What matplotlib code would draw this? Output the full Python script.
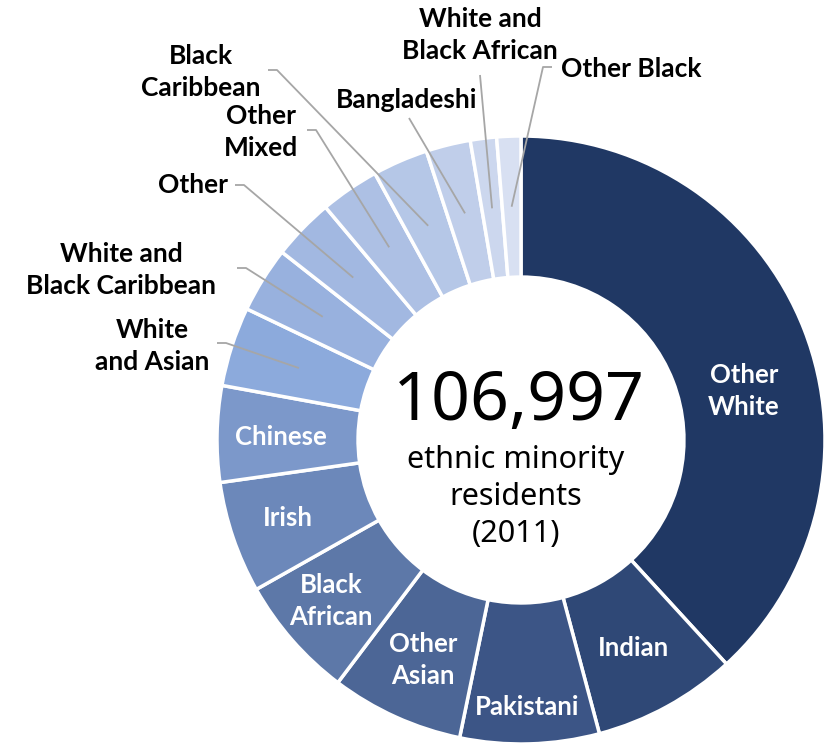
import numpy as np
import matplotlib
matplotlib.use("Agg")
import matplotlib.pyplot as plt

# ---- data (clockwise from 12 o'clock) ----
groups = [
    "Other White", "Indian", "Pakistani", "Other Asian", "Black African",
    "Irish", "Chinese", "White and Asian", "White and Black Caribbean",
    "Other", "Other Mixed", "Black Caribbean", "Bangladeshi",
    "White and Black African", "Other Black",
]
residents = [40870, 8200, 7910, 7550, 6990, 6360, 5470, 4520, 3750,
             3510, 3360, 3150, 2530, 1490, 1370]
total_label = "106,997"

colors = [
    "#203864", "#2F4876", "#3C5586", "#4C6696", "#5D78A8",
    "#6C88BA", "#7C98CA", "#8CAADC", "#98B1DE", "#A2B8E1",
    "#ADC0E4", "#B5C7E7", "#C0CEEA", "#CCD7EE", "#D8E0F2",
]

# label text shown in the chart
inside_text = {
    "Other White": "Other\nWhite", "Indian": "Indian", "Pakistani": "Pakistani",
    "Other Asian": "Other\nAsian", "Black African": "Black\nAfrican",
    "Irish": "Irish", "Chinese": "Chinese",
}
outside_text = {
    "White and Asian": "White\nand Asian",
    "White and Black Caribbean": "White and\nBlack Caribbean",
    "Other": "Other",
    "Other Mixed": "Other\nMixed",
    "Black Caribbean": "Black\nCaribbean",
    "Bangladeshi": "Bangladeshi",
    "White and Black African": "White and\nBlack African",
    "Other Black": "Other Black",
}

# ---- layout (pixel positions in the 831x744 canvas) ----
W, H = 831, 744
CX, CY, R = 521, 440, 304


def px(x, y):
    return ((x - CX) / R, (CY - y) / R)


inside_pos = {
    "Other White": (744, 391), "Indian": (633, 648), "Pakistani": (527, 707),
    "Other Asian": (423, 660), "Black African": (331, 601),
    "Irish": (288, 518), "Chinese": (281, 437),
}
# text centre, leader start, elbow
outside_pos = {
    "White and Asian": ((152, 346), (217, 343), (226, 343)),
    "White and Black Caribbean": ((121, 270), (237, 268), (246, 268)),
    "Other": ((193, 185), (235, 185), (244, 185)),
    "Other Mixed": ((261, 132), (307, 130), (316, 130)),
    "Black Caribbean": ((201, 72), (268, 70), (277, 70)),
    "Bangladeshi": ((407, 100), (409, 118), (409, 118)),
    "White and Black African": ((480, 35), (480, 75), (480, 75)),
    "Other Black": ((631, 69), (552, 67), (543, 67)),
}

label_font = ["Lato", "DejaVu Sans"]
center_font = ["Noto Sans", "DejaVu Sans"]

fig = plt.figure(figsize=(W / 100, H / 100), dpi=100)
ax = fig.add_axes([0, 0, 1, 1])

ring = 0.464
wedges, _ = ax.pie(
    residents,
    colors=colors,
    startangle=90,
    counterclock=False,
    radius=1.0,
    wedgeprops=dict(width=ring, edgecolor="white", linewidth=2.5),
)
ax.set_xlim(-CX / R, (W - CX) / R)
ax.set_ylim(-(H - CY) / R, CY / R)
ax.set_aspect("equal")
ax.axis("off")

for name, w in zip(groups, wedges):
    if name in inside_text:
        x, y = px(*inside_pos[name])
        ax.text(x, y, inside_text[name], ha="center", va="center",
                color="white", fontsize=18.5, fontweight="bold",
                family=label_font, linespacing=1.4)
    else:
        mid = np.deg2rad((w.theta1 + w.theta2) / 2)
        rm = 1 - ring / 2
        ex, ey = rm * np.cos(mid), rm * np.sin(mid)
        (tx, ty), s, e = outside_pos[name]
        sx, sy = px(*s)
        bx, by = px(*e)
        ax.plot([sx, bx, ex], [sy, by, ey], color="#A6A6A6", lw=1.3,
                solid_capstyle="butt")
        x, y = px(tx, ty)
        ax.text(x, y, outside_text[name], ha="center", va="center",
                color="black", fontsize=19, fontweight="bold",
                family=label_font, linespacing=1.4, multialignment="center")

x, y = px(519, 402)
ax.text(x, y, total_label, ha="center", va="center", fontsize=49,
        family=center_font, color="black")
x, y = px(516, 497)
ax.text(x, y, "ethnic minority\nresidents\n(2011)", ha="center",
        va="center", fontsize=22, family=center_font, color="black",
        linespacing=1.3)

fig.savefig("out.png", dpi=100)
